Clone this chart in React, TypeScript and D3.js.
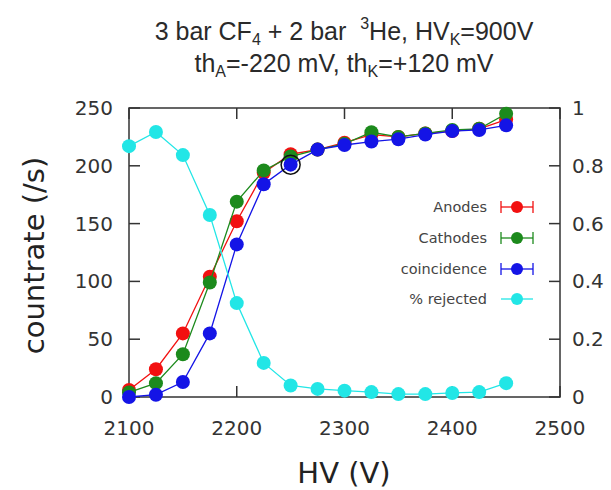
import React from 'react';
import * as d3 from 'd3';

// HV scan points (V)
const hv = [2100, 2125, 2150, 2175, 2200, 2225, 2250, 2275, 2300, 2325, 2350, 2375, 2400, 2425, 2450];
const anodes = [6, 24, 55, 104, 152, 194, 210, 214, 220, 227, 225, 228, 230, 232, 240];
const cathodes = [4, 12, 37, 99, 169, 196, 208, 214, 219, 229, 225, 228, 231, 232, 245];
const coincidence = [0, 2, 13, 55, 132, 184, 201, 214, 218, 221, 223, 227, 230, 231, 235];
const rejected = [0.868, 0.917, 0.837, 0.63, 0.325, 0.118, 0.04, 0.028, 0.022, 0.017, 0.01, 0.01, 0.014, 0.017, 0.048];

const xTicks = [2100, 2200, 2300, 2400, 2500];
const yTicks = [0, 50, 100, 150, 200, 250];
const y2Ticks = [0, 0.2, 0.4, 0.6, 0.8, 1];

const highlight = { hv: 2250, rate: 201 };

const series = [
  { name: 'Anodes', values: anodes, color: '#f21010', bars: true },
  { name: 'Cathodes', values: cathodes, color: '#1c8a1c', bars: true },
  { name: 'coincidence', values: coincidence, color: '#1414e6', bars: true },
];

const W = 611;
const H = 490;
const m = { left: 129, right: 560, top: 108, bottom: 397 };
const font = 'DejaVu Sans, sans-serif';
const titleFont = 'Liberation Sans, Arial, sans-serif';
const axisColor = '#333';
const tickLen = 11;

const App: React.FC = () => {
  const x = d3.scaleLinear().domain([2100, 2500]).range([m.left, m.right]);
  const y = d3.scaleLinear().domain([0, 250]).range([m.bottom, m.top]);
  const y2 = d3.scaleLinear().domain([0, 1]).range([m.bottom, m.top]);

  const line = (vals: number[], sc: d3.ScaleLinear<number, number>) =>
    d3.line<number>()
      .x((_, i) => x(hv[i]))
      .y(d => sc(d))(vals) || '';

  const legendX = 517;
  const legendY = [207, 238, 269, 299];

  return (
    <svg width={W} height={H} style={{ position: 'absolute', left: 0, top: 0, background: '#fff' }}>
      {/* title */}
      <text x={344} y={40} textAnchor="middle" fontFamily={titleFont} fontSize={25} fill="#2a2a2a"
        style={{ whiteSpace: 'pre' }}>
        <tspan>3 bar CF</tspan>
        <tspan fontSize={16} dy={5}>4</tspan>
        <tspan dy={-5}> + 2 bar  </tspan>
        <tspan fontSize={16} dy={-11}>3</tspan>
        <tspan dy={11}>He, HV</tspan>
        <tspan fontSize={16} dy={5}>K</tspan>
        <tspan dy={-5}>=900V</tspan>
      </text>
      <text x={344} y={72} textAnchor="middle" fontFamily={titleFont} fontSize={25} fill="#2a2a2a">
        <tspan>th</tspan>
        <tspan fontSize={16} dy={5}>A</tspan>
        <tspan dy={-5}>=-220 mV, th</tspan>
        <tspan fontSize={16} dy={5}>K</tspan>
        <tspan dy={-5}>=+120 mV</tspan>
      </text>

      {/* frame */}
      <rect x={m.left} y={m.top} width={m.right - m.left} height={m.bottom - m.top}
        fill="none" stroke={axisColor} strokeWidth={1.5} />

      {/* x ticks, bottom and top */}
      {xTicks.map(t => (
        <g key={'x' + t}>
          <line x1={x(t)} x2={x(t)} y1={m.bottom} y2={m.bottom - tickLen} stroke={axisColor} strokeWidth={1.5} />
          <line x1={x(t)} x2={x(t)} y1={m.top} y2={m.top + tickLen} stroke={axisColor} strokeWidth={1.5} />
          <text x={x(t)} y={m.bottom + 38} textAnchor="middle" fontFamily={font} fontSize={20} fill="#333">{t}</text>
        </g>
      ))}
      {/* left ticks */}
      {yTicks.map(t => (
        <g key={'y' + t}>
          <line x1={m.left} x2={m.left + tickLen} y1={y(t)} y2={y(t)} stroke={axisColor} strokeWidth={1.5} />
          <text x={m.left - 16} y={y(t) + 7} textAnchor="end" fontFamily={font} fontSize={20} fill="#333">{t}</text>
        </g>
      ))}
      {/* right ticks */}
      {y2Ticks.map(t => (
        <g key={'y2' + t}>
          <line x1={m.right} x2={m.right - tickLen} y1={y2(t)} y2={y2(t)} stroke={axisColor} strokeWidth={1.5} />
          <text x={m.right + 12} y={y2(t) + 7} textAnchor="start" fontFamily={font} fontSize={20} fill="#333">{t}</text>
        </g>
      ))}

      {/* axis titles */}
      <text x={344} y={483} textAnchor="middle" fontFamily={font} fontSize={29} fill="#222">HV (V)</text>
      <text transform={`translate(44,${(m.top + m.bottom) / 2 + 3}) rotate(-90)`} textAnchor="middle"
        fontFamily={font} fontSize={29} fill="#222">countrate (/s)</text>

      {/* count series */}
      {series.map(s => (
        <g key={s.name}>
          <path d={line(s.values, y)} fill="none" stroke={s.color} strokeWidth={1.3} />
          {s.values.map((v, i) => (
            <circle key={i} cx={x(hv[i])} cy={y(v)} r={7} fill={s.color} />
          ))}
        </g>
      ))}

      {/* rejected fraction, right axis */}
      <g>
        <path d={line(rejected, y2)} fill="none" stroke="#22e6e6" strokeWidth={1.3} />
        {rejected.map((v, i) => (
          <circle key={i} cx={x(hv[i])} cy={y2(v)} r={7} fill="#22e6e6" />
        ))}
      </g>

      {/* highlighted point */}
      <circle cx={x(highlight.hv)} cy={y(highlight.rate)} r={9.5} fill="none" stroke="#111" strokeWidth={1.5} />

      {/* legend */}
      {[...series, { name: '% rejected', color: '#22e6e6', bars: false }].map((s, i) => (
        <g key={'lg' + s.name}>
          <text x={legendX - 30} y={legendY[i] + 5} textAnchor="end" fontFamily={font} fontSize={14.5} fill="#444">{s.name}</text>
          <line x1={legendX - 16} x2={legendX + 16} y1={legendY[i]} y2={legendY[i]} stroke={s.color} strokeWidth={1.3} />
          {s.bars && (
            <>
              <line x1={legendX - 16} x2={legendX - 16} y1={legendY[i] - 6} y2={legendY[i] + 6} stroke={s.color} strokeWidth={1.3} />
              <line x1={legendX + 16} x2={legendX + 16} y1={legendY[i] - 6} y2={legendY[i] + 6} stroke={s.color} strokeWidth={1.3} />
            </>
          )}
          <circle cx={legendX} cy={legendY[i]} r={6} fill={s.color} />
        </g>
      ))}
    </svg>
  );
};

export default App;
